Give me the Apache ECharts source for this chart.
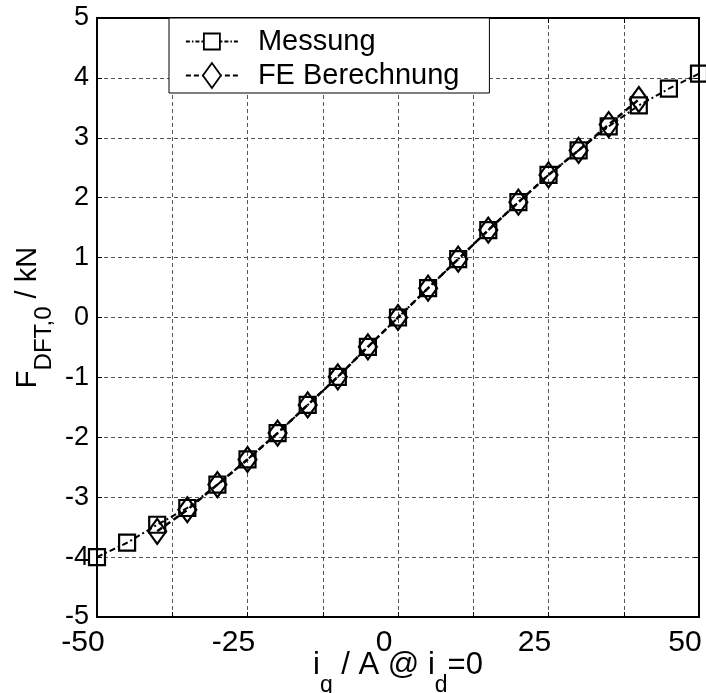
<!DOCTYPE html>
<html>
<head>
<meta charset="utf-8">
<script src="https://cdn.jsdelivr.net/npm/echarts@6/dist/echarts.min.js"></script>
<style>html,body{margin:0;padding:0;background:#fff}#c{width:706px;height:693px}</style>
</head>
<body>
<div id="c"></div>
<script>
// Data
const messungX = [-50,-45,-40,-35,-30,-25,-20,-15,-10,-5,0,5,10,15,20,25,30,35,40,45,50];
const messungY = [-4.0,-3.76,-3.46,-3.18,-2.79,-2.37,-1.93,-1.46,-0.99,-0.49,0.0,0.49,0.975,1.46,1.925,2.38,2.79,3.19,3.54,3.82,4.07];
const feX = [-40,-35,-30,-25,-20,-15,-10,-5,0,5,10,15,20,25,30,35,40];
const feY = [-3.57,-3.21,-2.79,-2.37,-1.93,-1.46,-0.99,-0.49,0.0,0.49,0.975,1.46,1.925,2.38,2.79,3.22,3.64];
const xTickLabels = [-50,-25,0,25,50];
const yTickLabels = [-5,-4,-3,-2,-1,0,1,2,3,4,5];
const seriesNames = ['Messung', 'FE Berechnung'];

const FONT = 'Liberation Sans, Arial, sans-serif';
const chart = echarts.init(document.getElementById('c'));
const pair = (xs, ys) => xs.map((x, i) => [x, ys[i]]);

// legend icons (line sample + marker), drawn in a 52 x 28 box
const iconMessung = 'path://M0 14L4 14M6 14L7.5 14M9.5 14L13.5 14M15.5 14L18 14' +
  'M18 6L34 6L34 22L18 22Z' +
  'M34 14L36.5 14M38.5 14L42.5 14M44.5 14L46 14M48 14L52 14';
const iconFE = 'path://M0 14L5 14M8 14L13 14M16 14L17 14' +
  'M17 14L26 1.5L35 14L26 26.5Z' +
  'M35 14L36 14M39 14L44 14M47 14L52 14';

const gridLine = {show: true, lineStyle: {type: [4, 3], color: '#555', width: 1}};
const legendItemStyle = {color: 'rgba(0,0,0,0)', borderColor: '#000', borderWidth: 1.8};
chart.setOption({
  animation: false,
  backgroundColor: '#fff',
  grid: {left: 97, right: 7, top: 18, bottom: 76, outerBoundsMode: 'none', containLabel: false},
  legend: {
    orient: 'vertical',
    left: 169, top: 18,
    padding: [9, 30, 3, 16],
    itemWidth: 52, itemHeight: 28, itemGap: 5,
    backgroundColor: '#fff',
    borderColor: '#000', borderWidth: 1, borderRadius: 0,
    textStyle: {fontFamily: FONT, fontSize: 29, color: '#000', padding: [0, 0, 0, 15]},
    data: [
      {name: seriesNames[0], icon: iconMessung, itemStyle: legendItemStyle},
      {name: seriesNames[1], icon: iconFE, itemStyle: legendItemStyle}
    ]
  },
  xAxis: [{
    type: 'value', min: -50, max: 50, interval: 12.5,
    axisLine: {show: true, onZero: false, lineStyle: {color: '#000', width: 2}},
    axisTick: {show: true, inside: true, length: 5, lineStyle: {color: '#000', width: 1}},
    axisLabel: {
      fontFamily: FONT, fontSize: 30, color: '#000', margin: 11, padding: [0, 28, 0, 0],
      formatter: v => (xTickLabels.indexOf(v) >= 0 ? String(v) : '')
    },
    splitLine: gridLine,
    name: 'i{s|q} / A @ i{s|d}=0',
    nameLocation: 'middle', nameGap: 33, nameMoveOverlap: false,
    nameTextStyle: {
      fontFamily: FONT, fontSize: 31, color: '#000', verticalAlign: 'top', lineHeight: 31,
      rich: {s: {fontFamily: FONT, fontSize: 23, color: '#000', verticalAlign: 'top', lineHeight: 23, padding: [24, 0, 0, 0]}}
    }
  }, {
    type: 'value', min: -50, max: 50, interval: 12.5, position: 'top',
    axisLine: {show: true, onZero: false, lineStyle: {color: '#000', width: 2}},
    axisTick: {show: true, inside: true, length: 5, lineStyle: {color: '#000'}},
    axisLabel: {show: false}, splitLine: {show: false}
  }],
  yAxis: [{
    type: 'value', min: -5, max: 5, interval: 1,
    axisLine: {show: true, onZero: false, lineStyle: {color: '#000', width: 2}},
    axisTick: {show: true, inside: true, length: 5, lineStyle: {color: '#000'}},
    axisLabel: {fontFamily: FONT, fontSize: 27, color: '#000', margin: 8, padding: [4, 0, 0, 0],
      formatter: v => (yTickLabels.indexOf(v) >= 0 ? String(v) : '')},
    splitLine: gridLine,
    name: 'F{s|DFT,0} / kN',
    nameLocation: 'middle', nameGap: 84, nameRotate: 90, nameMoveOverlap: false,
    nameTextStyle: {
      fontFamily: FONT, fontSize: 29, color: '#000', verticalAlign: 'top', lineHeight: 29,
      rich: {s: {fontFamily: FONT, fontSize: 24, color: '#000', verticalAlign: 'top', lineHeight: 24, padding: [19, 0, 0, 0]}}
    }
  }, {
    type: 'value', min: -5, max: 5, interval: 1, position: 'right',
    axisLine: {show: true, onZero: false, lineStyle: {color: '#000', width: 2}},
    axisTick: {show: true, inside: true, length: 5, lineStyle: {color: '#000'}},
    axisLabel: {show: false}, splitLine: {show: false}
  }],
  series: [{
    name: seriesNames[0], type: 'line', xAxisIndex: 0, yAxisIndex: 0,
    data: pair(messungX, messungY),
    symbol: 'rect', symbolSize: 16, showAllSymbol: true,
    lineStyle: {color: '#000', width: 2, type: [6, 3, 2, 3]},
    itemStyle: {color: 'rgba(0,0,0,0)', borderColor: '#000', borderWidth: 2.2},
    z: 3
  }, {
    name: seriesNames[1], type: 'line', xAxisIndex: 0, yAxisIndex: 0,
    data: pair(feX, feY),
    symbol: 'diamond', symbolSize: [18, 25], showAllSymbol: true,
    lineStyle: {color: '#000', width: 2.5, type: [6, 4]},
    itemStyle: {color: 'rgba(0,0,0,0)', borderColor: '#000', borderWidth: 2.2},
    z: 4
  }]
});
</script>
</body>
</html>
